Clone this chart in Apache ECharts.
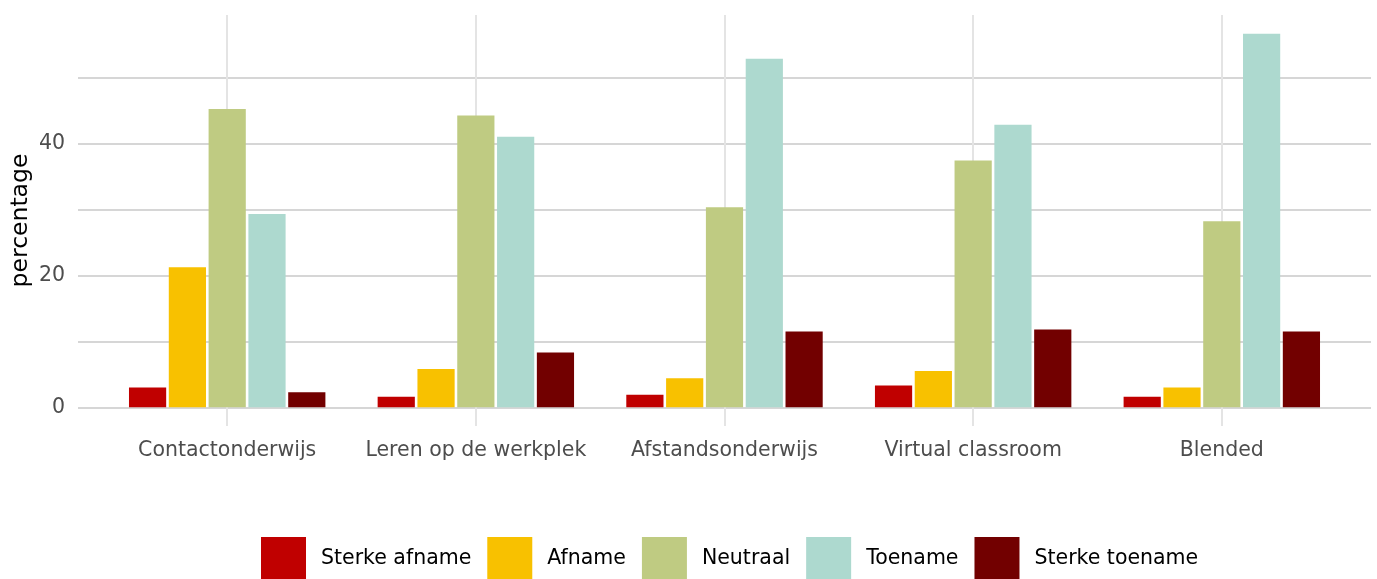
<!DOCTYPE html>
<html>
<head>
<meta charset="utf-8">
<script src="https://cdn.jsdelivr.net/npm/echarts@6/dist/echarts.min.js"></script>
<style>
html, body { margin: 0; padding: 0; background: #ffffff; }
#chart { width: 1377px; height: 579px; }
</style>
</head>
<body>
<div id="chart"></div>
<script>
// ---- data ----
const categories = ['Contactonderwijs', 'Leren op de werkplek', 'Afstandsonderwijs', 'Virtual classroom', 'Blended'];
const seriesNames = ['Sterke afname', 'Afname', 'Neutraal', 'Toename', 'Sterke toename'];
const sterkeAfname  = [3.0, 1.6, 1.9, 3.3, 1.6];
const afname        = [21.2, 5.8, 4.4, 5.5, 3.0];
const neutraal      = [45.2, 44.2, 30.3, 37.4, 28.2];
const toename       = [29.3, 41.0, 52.8, 42.8, 56.6];
const sterkeToename = [2.3, 8.3, 11.5, 11.8, 11.5];
const yGridTicks  = [0, 10, 20, 30, 40, 50];
const yLabelTicks = [0, 20, 40];
const colors = ['#C00000', '#F8C100', '#BFCB82', '#ADD9CF', '#720000'];

const seriesValues = [sterkeAfname, afname, neutraal, toename, sterkeToename];
const dataMax = Math.max.apply(null, seriesValues.flat());
const yMin = -0.05 * dataMax;
const yMax = 1.05 * dataMax;

const FONT = 'DejaVu Sans';
const chart = echarts.init(document.getElementById('chart'), null, { renderer: 'canvas' });

// plot area (ggplot panel): left 78, right edge 1371, top 15, bottom 426
const panelLeft = 78, panelRight = 1371;
const pitch = (panelRight - panelLeft) / (categories.length + 0.2);
const barsLeft = panelLeft + 0.1 * pitch;
const barsRight = panelRight - 0.1 * pitch;

chart.setOption({
  backgroundColor: '#ffffff',
  animation: false,
  textStyle: { fontFamily: FONT },
  grid: [
    { left: panelLeft, right: 1377 - panelRight, top: 15, bottom: 153, containLabel: false, outerBoundsMode: 'none' },
    { left: barsLeft, right: 1377 - barsRight, top: 15, bottom: 153, containLabel: false, outerBoundsMode: 'none' }
  ],
  xAxis: [
    {
      gridIndex: 0, type: 'value', min: 0.4, max: categories.length + 0.6,
      axisLine: { show: false }, axisLabel: { show: false },
      axisTick: { show: false, customValues: categories.map((c, i) => i + 1) },
      splitLine: { show: true, lineStyle: { color: '#e4e4e4', width: 2 } }
    },
    {
      gridIndex: 1, type: 'category', data: categories,
      axisLine: { show: false, onZero: false }, axisTick: { show: false },
      splitLine: { show: false },
      axisLabel: { interval: 0, margin: 14, fontSize: 20.5, color: '#4d4d4d', fontFamily: FONT }
    }
  ],
  yAxis: [
    {
      gridIndex: 0, type: 'value', min: yMin, max: yMax,
      name: 'percentage', nameLocation: 'middle', nameGap: 45, nameMoveOverlap: false,
      nameTextStyle: { fontSize: 23.5, color: '#000000', fontFamily: FONT },
      axisLine: { show: false },
      axisTick: { show: false, customValues: yGridTicks },
      axisLabel: { customValues: yLabelTicks, margin: 13, fontSize: 20.5, color: '#4d4d4d', fontFamily: FONT },
      splitLine: { show: true, lineStyle: { color: '#d6d6d6', width: 1.8 } }
    },
    {
      gridIndex: 1, type: 'value', min: yMin, max: yMax,
      axisLine: { show: false }, axisTick: { show: false }, axisLabel: { show: false },
      splitLine: { show: false }
    }
  ],
  legend: {
    data: seriesNames,
    left: 261, top: 537, padding: 0,
    icon: 'rect', itemWidth: 45, itemHeight: 43, itemGap: 16,
    textStyle: { fontSize: 20.5, color: '#000000', fontFamily: FONT, padding: [3, 0, 0, 10] }
  },
  series: seriesNames.map((name, i) => ({
    name: name,
    type: 'bar',
    xAxisIndex: 1, yAxisIndex: 1,
    data: seriesValues[i],
    barWidth: 37.2,
    barGap: '7%',
    itemStyle: { color: colors[i] }
  }))
});
</script>
</body>
</html>
